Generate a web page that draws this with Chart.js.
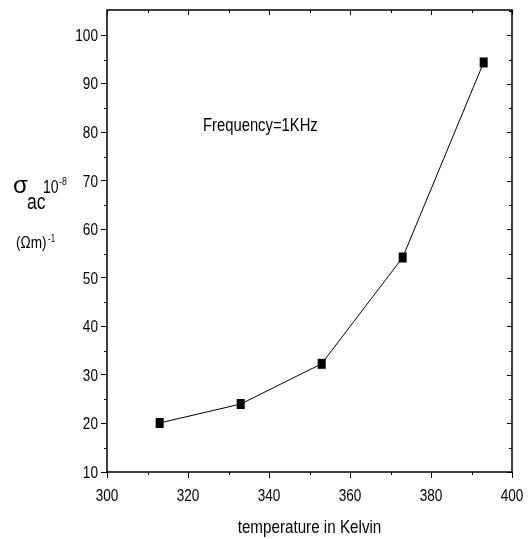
<!DOCTYPE html>
<html>
<head>
<meta charset="utf-8">
<script src="https://cdn.jsdelivr.net/npm/chart.js@4/dist/chart.umd.min.js"></script>
<style>
  html, body { margin: 0; padding: 0; background: #fff; }
  #wrap { width: 529px; height: 539px; }
</style>
</head>
<body>
<div id="wrap"><canvas id="chart" width="529" height="539"></canvas></div>
<script>
// conductivity vs temperature at 1 kHz
const temperatures = [313, 333, 353, 373, 393];
const sigmaAc = [20.1, 24.0, 32.3, 54.2, 94.4];
const xTicks = [300, 320, 340, 360, 380, 400];
const yTicks = [10, 20, 30, 40, 50, 60, 70, 80, 90, 100];
const xTitle = 'temperature in Kelvin';
const annotation = { x: 323.7, y: 81.5, text: 'Frequency=1KHz' };

const FONT = "'Liberation Sans', Arial, sans-serif";
const NARROW = 0.8;

// condensed text, like Arial Narrow
function narrowText(ctx, text, x, y, size, align, baseline, sx) {
    const k = sx || NARROW;
    ctx.save();
    ctx.font = size + 'px ' + FONT;
    ctx.textAlign = align || 'left';
    ctx.textBaseline = baseline || 'alphabetic';
    ctx.translate(x, y);
    ctx.scale(k, 1);
    ctx.fillText(text, 0, 0);
    ctx.restore();
}

// filled marker with a thin white margin so the line stops short of it
function makeMarker() {
    const c = document.createElement('canvas');
    c.width = 12;
    c.height = 14;
    const g = c.getContext('2d');
    g.fillStyle = '#000';
    g.fillRect(2, 2, 8, 10);
    return c;
}

// frame, minor ticks, mirrored inner ticks and all labels
const framePlugin = {
    id: 'frame',
    afterDraw(chart) {
        const { ctx, chartArea: a, scales: { x, y } } = chart;
        ctx.save();
        ctx.strokeStyle = '#000';
        ctx.lineWidth = 1.5;
        ctx.strokeRect(a.left, a.top, a.right - a.left, a.bottom - a.top);
        ctx.lineWidth = 1;
        ctx.beginPath();
        for (let v = 310; v < 400; v += 20) {
            const px = Math.round(x.getPixelForValue(v)) + 0.5;
            ctx.moveTo(px, a.bottom);
            ctx.lineTo(px, a.bottom + 3);
        }
        for (let v = 300; v <= 400; v += 10) {
            const px = Math.round(x.getPixelForValue(v)) + 0.5;
            ctx.moveTo(px, a.top);
            ctx.lineTo(px, a.top + (v % 20 === 0 ? 5 : 3));
        }
        for (let v = 15; v < 105; v += 10) {
            const py = Math.round(y.getPixelForValue(v)) + 0.5;
            ctx.moveTo(a.left, py);
            ctx.lineTo(a.left - 3, py);
        }
        for (let v = 10; v <= 105; v += 5) {
            const py = Math.round(y.getPixelForValue(v)) + 0.5;
            ctx.moveTo(a.right, py);
            ctx.lineTo(a.right - (v % 10 === 0 ? 5 : 3), py);
        }
        ctx.stroke();
        ctx.fillStyle = '#000';

        // tick labels
        x.ticks.forEach(t => narrowText(ctx, String(t.value), x.getPixelForValue(t.value), 496, 17, 'center', 'middle'));
        y.ticks.forEach(t => narrowText(ctx, String(t.value), 98, y.getPixelForValue(t.value) + 1, 17, 'right', 'middle'));

        // axis title
        narrowText(ctx, xTitle, (a.left + a.right) / 2, 528, 19, 'center', 'middle');

        // label inside the plot
        narrowText(ctx, annotation.text, x.getPixelForValue(annotation.x), y.getPixelForValue(annotation.y) + 1, 18.5, 'left', 'middle');

        // y-axis title: sigma_ac 10^-8 (Ωm)^-1
        narrowText(ctx, 'σ', 13, 193, 24, 'left', 'alphabetic', 1);
        narrowText(ctx, 'ac', 27, 209, 22);
        narrowText(ctx, '10', 43, 193, 17.5);
        narrowText(ctx, '-8', 59, 185, 11);
        narrowText(ctx, '(Ωm)', 16, 248, 17);
        narrowText(ctx, '-1', 48, 242, 10);
        ctx.restore();
    }
};

new Chart(document.getElementById('chart'), {
    type: 'line',
    data: {
        datasets: [{
            data: temperatures.map((t, i) => ({ x: t, y: sigmaAc[i] })),
            borderColor: '#000',
            borderWidth: 1,
            pointStyle: makeMarker(),
            pointRadius: 6,
            tension: 0
        }]
    },
    options: {
        responsive: false,
        animation: false,
        layout: { padding: { top: 10, right: 17, left: 0, bottom: 0 } },
        plugins: { legend: { display: false }, tooltip: { enabled: false } },
        scales: {
            x: {
                type: 'linear',
                min: 300,
                max: 400,
                afterBuildTicks: s => { s.ticks = xTicks.map(v => ({ value: v })); },
                afterFit: s => { s.height = 67; },
                ticks: { display: false },
                grid: { drawOnChartArea: false, tickLength: 6, color: '#000', tickWidth: 1 },
                border: { display: false }
            },
            y: {
                type: 'linear',
                min: 10,
                max: 105.2,
                afterBuildTicks: s => { s.ticks = yTicks.map(v => ({ value: v })); },
                afterFit: s => { s.width = 107; },
                ticks: { display: false },
                grid: { drawOnChartArea: false, tickLength: 6, color: '#000', tickWidth: 1 },
                border: { display: false }
            }
        }
    },
    plugins: [framePlugin]
});
</script>
</body>
</html>
